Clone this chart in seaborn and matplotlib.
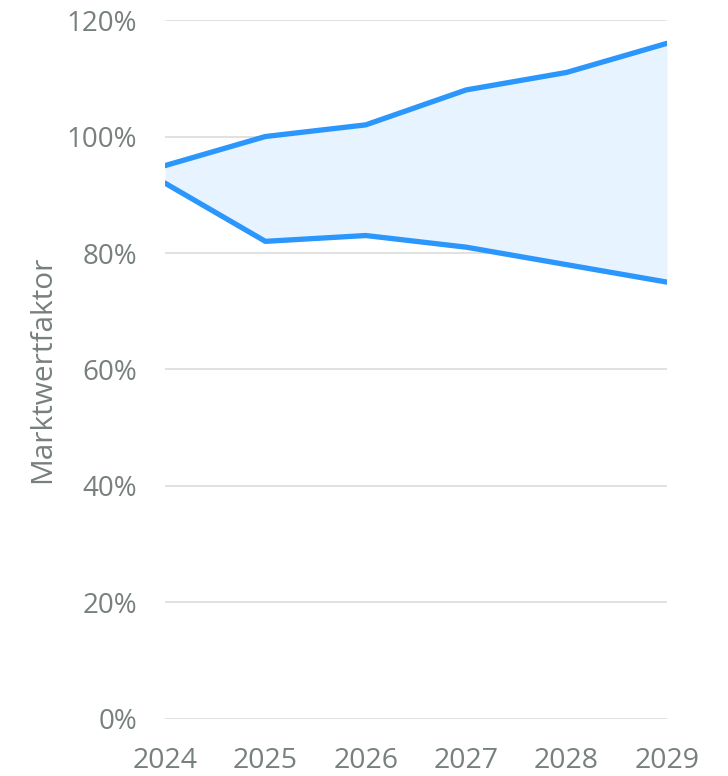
import matplotlib
matplotlib.use("Agg")
import matplotlib.pyplot as plt
import seaborn as sns
import pandas as pd
from matplotlib.ticker import FuncFormatter

years = [2024, 2025, 2026, 2027, 2028, 2029]
upper = [95, 100, 102, 108, 111, 116]
lower = [92, 82, 83, 81, 78, 75]
y_ticks = [0, 20, 40, 60, 80, 100, 120]

sns.set_theme(style="white")
plt.rcParams["font.family"] = ["Open Sans", "DejaVu Sans"]

text_color = "#77807d"
line_color = "#2b96fc"
fill_color = "#e7f3fe"
grid_color = "#dcdcdc"

df = pd.DataFrame({"Jahr": years, "Obergrenze": upper, "Untergrenze": lower})

fig = plt.figure(figsize=(7.28, 7.76), dpi=100)
ax = fig.add_axes([0.2266, 0.0735, 0.6896, 0.9007])

ax.fill_between(df["Jahr"], df["Untergrenze"], df["Obergrenze"],
                color=fill_color, linewidth=0, zorder=1)
sns.lineplot(data=df, x="Jahr", y="Obergrenze", ax=ax, color=line_color,
             linewidth=3.8, zorder=3)
sns.lineplot(data=df, x="Jahr", y="Untergrenze", ax=ax, color=line_color,
             linewidth=3.8, zorder=3)

ax.set_xlim(years[0], years[-1])
ax.set_ylim(0, 120)
ax.set_yticks(y_ticks)
ax.set_xticks(years)
ax.yaxis.set_major_formatter(FuncFormatter(lambda v, _: f"{v:.0f}%"))
ax.grid(axis="y", color=grid_color, linewidth=1.2, zorder=0)
ax.grid(axis="x", visible=False)
for s in ax.spines.values():
    s.set_visible(False)

ax.tick_params(axis="y", length=0, pad=20, labelsize=20, labelcolor=text_color)
ax.tick_params(axis="x", length=0, pad=20, labelsize=20.5, labelcolor=text_color)
ax.set_xlabel("")
ax.set_ylabel("Marktwertfaktor", fontsize=21.5, color=text_color, labelpad=7)

fig.savefig("out.png", dpi=100)
